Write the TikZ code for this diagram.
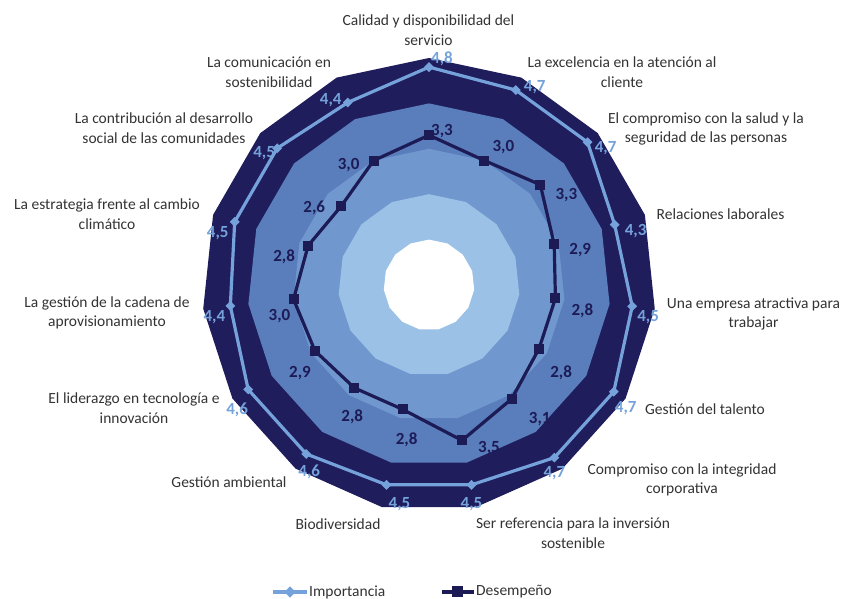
\documentclass[tikz,border=0pt]{standalone}
\usepackage{fontspec}
\setmainfont{Carlito}
\usetikzlibrary{positioning}
\definecolor{navyband}{HTML}{1F1D5C}
\definecolor{bandmid}{HTML}{5A7DBC}
\definecolor{bandlight}{HTML}{7098CF}
\definecolor{bandpale}{HTML}{9BC2E6}
\definecolor{impblue}{HTML}{75A2DB}
\definecolor{desnavy}{HTML}{1D1B56}
\tikzset{
  catlabel/.style={font=\fontsize{15.5}{19.5}\selectfont, align=center, text=black!80, inner sep=0pt},
  implabel/.style={font=\fontsize{17}{19}\selectfont\bfseries, text=impblue, inner sep=0pt},
  deslabel/.style={font=\fontsize{17}{19}\selectfont\bfseries, text=desnavy, inner sep=0pt},
  impline/.style={draw=impblue, line width=3.2pt, line join=round},
  desline/.style={draw=desnavy, line width=3.2pt, line join=round},
  impmark/.style={rectangle, fill=impblue, minimum size=7pt, inner sep=0pt, rotate=45},
  desmark/.style={rectangle, fill=desnavy, minimum size=10pt, inner sep=0pt},
  legtext/.style={font=\fontsize{15.5}{18}\selectfont, text=black!80, inner sep=0pt}
}
\def\rs{45.4}

\begin{document}
\begin{tikzpicture}[x=1pt, y=1pt]
\useasboundingbox (-429,-314) rectangle (415,285);

% bands of the radar
\foreach \lvl/\col in {5/navyband, 4/bandmid, 3/bandlight, 2/bandpale, 1/white}{
  \fill[\col] (90:{\lvl*\rs}) \foreach \k in {1,...,14}{ -- ({90-24*\k}:{\lvl*\rs}) } -- cycle;
}

% Importancia
\foreach \i/\a/\b/\dx/\dy in {0/4/8/13/8, 1/4/7/19/3, 2/4/7/18/-6, 3/4/3/21/-6, 4/4/5/16/-11,
  5/4/7/12/-16, 6/4/7/0/-16, 7/4/5/0/-19, 8/4/5/13/-19, 9/4/6/3/-18,
  10/4/6/-11/-20, 11/4/4/-16/-11, 12/4/5/-17/-11, 13/4/5/-13/-5, 14/4/4/-17/2}{
  \coordinate (imp\i) at ({90-24*\i}:{\a.\b*\rs});
  \node[implabel] (impval\i) at ([shift={(\dx,\dy)}]imp\i) {\a,\b};
}
\draw[impline] (imp0) \foreach \k in {1,...,14}{ -- (imp\k) } -- cycle;
\foreach \i in {0,...,14}
  \node[impmark] (impm\i) at (imp\i) {};

% Desempeño
\foreach \i/\a/\b/\dx/\dy in {0/3/3/13/4, 1/3/0/19/13, 2/3/3/26/-10, 3/2/9/26/-6, 4/2/8/27/-12,
  5/2/8/22/-24, 6/3/1/28/-20, 7/3/5/27/-8, 8/2/8/4/-30, 9/2/8/-2/-29,
  10/2/9/-15/-22, 11/3/0/-14/-17, 12/2/8/-24/-11, 13/2/6/-27/-2, 14/3/0/-25/-5}{
  \coordinate (des\i) at ({90-24*\i}:{\a.\b*\rs});
  \node[deslabel] (desval\i) at ([shift={(\dx,\dy)}]des\i) {\a,\b};
}
\draw[desline] (des0) \foreach \k in {1,...,14}{ -- (des\k) } -- cycle;
\foreach \i in {0,...,14}
  \node[desmark] (desm\i) at (des\i) {};

% axis names
\node[catlabel] (cat0) at (-0.5,255) {Calidad y disponibilidad del\\servicio};
\node[catlabel] (cat1) at (193,213) {La excelencia en la atención al\\cliente};
\node[catlabel] (cat2) at (277,156) {El compromiso con la salud y la\\seguridad de las personas};
\node[catlabel] (cat3) at (291.5,71) {Relaciones laborales};
\node[catlabel] (cat4) at (324.5,-29) {Una empresa atractiva para\\trabajar};
\node[catlabel] (cat5) at (276,-124) {Gestión del talento};
\node[catlabel] (cat6) at (253,-195) {Compromiso con la integridad\\corporativa};
\node[catlabel] (cat7) at (144,-248) {Ser referencia para la inversión\\sostenible};
\node[catlabel] (cat8) at (-91,-239) {Biodiversidad};
\node[catlabel] (cat9) at (-200,-197) {Gestión ambiental};
\node[catlabel] (cat10) at (-295,-123) {El liderazgo en tecnología e\\innovación};
\node[catlabel] (cat11) at (-322,-28) {La gestión de la cadena de\\aprovisionamiento};
\node[catlabel] (cat12) at (-322,71) {La estrategia frente al cambio\\climático};
\node[catlabel] (cat13) at (-265,157) {La contribución al desarrollo\\social de las comunidades};
\node[catlabel] (cat14) at (-160,213) {La comunicación en\\sostenibilidad};

% legend
\coordinate (legimpl) at (-156,-307);
\coordinate (legimpr) at (-122,-307);
\draw[impline, line width=4pt] (legimpl) -- (legimpr);
\node[impmark, minimum size=8pt] (legimpm) at (-139,-307) {};
\node[legtext, right=2pt of legimpr] (legimptext) {Importancia};

\coordinate (legdesl) at (13,-307);
\coordinate (legdesr) at (45,-307);
\draw[desline, line width=4pt] (legdesl) -- (legdesr);
\node[desmark, minimum size=11pt] (legdesm) at (29,-307) {};
\node[legtext, right=2pt of legdesr] (legdestext) {Desempeño};
\end{tikzpicture}
\end{document}
